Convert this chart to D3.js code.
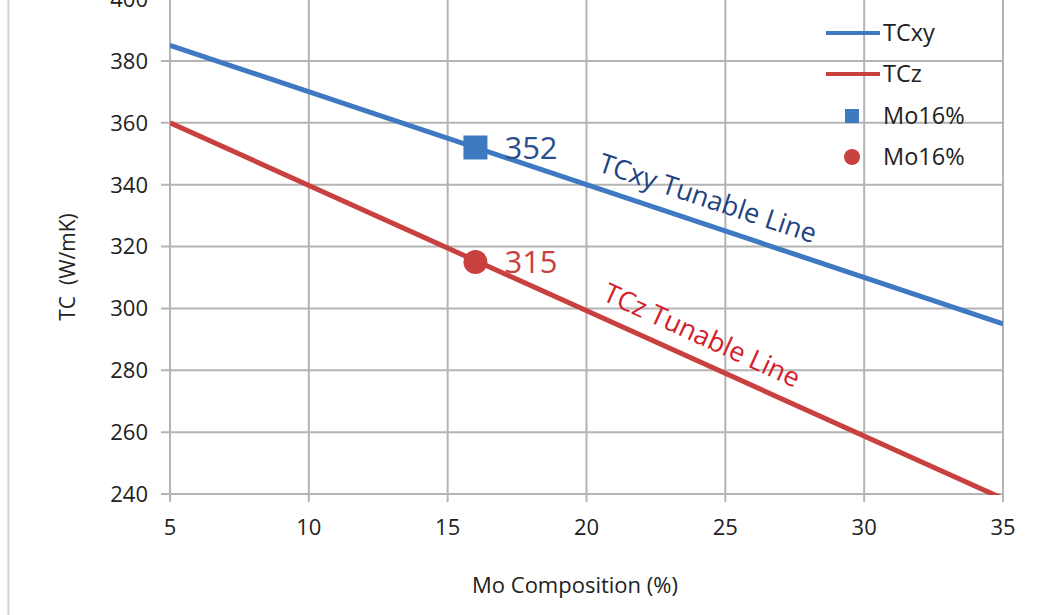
<!DOCTYPE html>
<html><head><meta charset="utf-8">
<script src="https://cdn.jsdelivr.net/npm/d3@7"></script>
<style>body{margin:0;background:#fff}svg{display:block}text{font-family:"Open Sans","Noto Sans",sans-serif}</style>
</head><body><svg id="c" width="1063" height="615"></svg>
<script>
const xTicks = [5, 10, 15, 20, 25, 30, 35];
const yTicks = [240, 260, 280, 300, 320, 340, 360, 380, 400];
const composition = [5, 35];
const tcxy = [385, 295];
const tcz = [360, 238.5];
const markerX = 16;
const markerTcxy = 352;
const markerTcz = 315;
const legendLabels = ["TCxy", "TCz", "Mo16%", "Mo16%"];
const annotations = ["TCxy Tunable Line", "TCz Tunable Line"];

const blue = "#3f79c2", red = "#c8413f";
const svg = d3.select("#c");
const L = 170, R = 1003, T = -1, B = 494;
const x = d3.scaleLinear().domain([5, 35]).range([L, R]);
const y = d3.scaleLinear().domain([240, 400]).range([B, T]);

// outer left border
svg.append("line").attr("x1", 8.5).attr("x2", 8.5).attr("y1", 0).attr("y2", 615).attr("stroke", "#d4d4d4").attr("stroke-width", 2);

// grid
const g = svg.append("g");
g.selectAll(".gy").data(yTicks).join("line")
  .attr("x1", L - 9).attr("x2", R).attr("y1", d => y(d)).attr("y2", d => y(d))
  .attr("stroke", "#b4b4b4").attr("stroke-width", 2);
g.selectAll(".gx").data(xTicks).join("line")
  .attr("x1", d => x(d)).attr("x2", d => x(d)).attr("y1", T).attr("y2", B + 8)
  .attr("stroke", "#b4b4b4").attr("stroke-width", 2);

// tick labels
g.selectAll(".ty").data(yTicks).join("text")
  .attr("x", L - 22).attr("y", d => y(d)).attr("dy", "0.36em")
  .attr("text-anchor", "end").attr("font-size", 22).attr("fill", "#222").text(d => d);
g.selectAll(".tx").data(xTicks).join("text")
  .attr("x", d => x(d)).attr("y", B + 33).attr("dy", "0.36em")
  .attr("text-anchor", "middle").attr("font-size", 22).attr("fill", "#222").text(d => d);

// axis titles
svg.append("text").attr("x", 575).attr("y", 593).attr("text-anchor", "middle")
  .attr("font-size", 22).attr("fill", "#222").text("Mo Composition (%)");
svg.append("text").attr("transform", "translate(75,267) rotate(-90)").attr("text-anchor", "middle")
  .attr("font-size", 21).attr("fill", "#222").attr("xml:space", "preserve").text("TC  (W/mK)");

// clip
svg.append("clipPath").attr("id", "pc").append("rect").attr("x", L).attr("y", 0).attr("width", R - L).attr("height", B - 0 + 1);

const line = d3.line().x(d => x(d[0])).y(d => y(d[1]));
const lg = svg.append("g").attr("clip-path", "url(#pc)");
lg.append("path").datum(composition.map((c, i) => [c, tcxy[i]])).attr("d", line)
  .attr("fill", "none").attr("stroke", blue).attr("stroke-width", 5);
lg.append("path").datum(composition.map((c, i) => [c, tcz[i]])).attr("d", line)
  .attr("fill", "none").attr("stroke", red).attr("stroke-width", 5);

// markers
svg.append("rect").attr("x", x(markerX) - 12).attr("y", y(markerTcxy) - 12).attr("width", 24).attr("height", 24).attr("fill", blue);
svg.append("circle").attr("cx", x(markerX)).attr("cy", y(markerTcz)).attr("r", 12).attr("fill", red);
svg.append("text").attr("x", x(markerX) + 29).attr("y", y(markerTcxy)).attr("dy", "0.36em")
  .attr("font-size", 31).attr("fill", "#2b4f8e").text(markerTcxy);
svg.append("text").attr("x", x(markerX) + 29).attr("y", y(markerTcz)).attr("dy", "0.36em")
  .attr("font-size", 31).attr("fill", "#c8413f").text(markerTcz);

// annotations
svg.append("text").attr("transform", "translate(708,198) rotate(18.5)").attr("text-anchor", "middle")
  .attr("dy", "0.36em").attr("font-size", 27).attr("fill", "#1f4383").text(annotations[0]);
svg.append("text").attr("transform", "translate(702,335) rotate(24.5)").attr("text-anchor", "middle")
  .attr("dy", "0.36em").attr("font-size", 27).attr("fill", "#d4202a").text(annotations[1]);

// legend
const leg = svg.append("g");
const ly = [33, 74, 116, 157];
leg.append("line").attr("x1", 826).attr("x2", 880).attr("y1", ly[0]).attr("y2", ly[0]).attr("stroke", blue).attr("stroke-width", 4);
leg.append("line").attr("x1", 826).attr("x2", 880).attr("y1", ly[1]).attr("y2", ly[1]).attr("stroke", red).attr("stroke-width", 4);
leg.append("rect").attr("x", 845).attr("y", ly[2] - 7).attr("width", 14).attr("height", 14).attr("fill", blue);
leg.append("circle").attr("cx", 852).attr("cy", ly[3]).attr("r", 8).attr("fill", red);
leg.selectAll(".lt").data(legendLabels).join("text")
  .attr("x", 883).attr("y", (d, i) => ly[i]).attr("dy", "0.36em")
  .attr("font-size", 23.5).attr("fill", "#222").text(d => d);
</script></body></html>
